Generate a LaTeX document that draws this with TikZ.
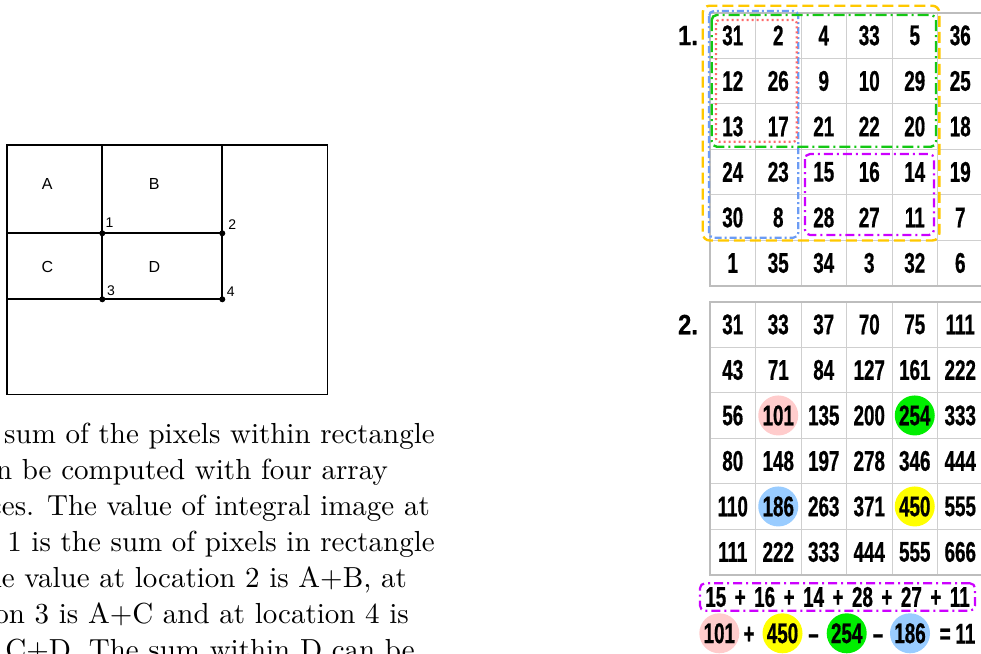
\documentclass[tikz,border=0pt]{standalone}
\usepackage{fontspec}
\usepackage{xcolor}
\setsansfont{Liberation Sans}
\newfontfamily\numfont{Liberation Sans}[FakeStretch=0.66,FakeBold=0.6]
\newfontfamily\labfont{Liberation Sans}[FakeStretch=0.85,FakeBold=0.4]
\newfontfamily\capfont{lmroman10-regular}[Extension=.otf]

\definecolor{boxyellow}{HTML}{FFC800}
\definecolor{boxblue}{HTML}{6C9CF4}
\definecolor{boxgreen}{HTML}{14C814}
\definecolor{boxred}{HTML}{FF6A6A}
\definecolor{boxmagenta}{HTML}{CC00FF}
\definecolor{gridgray}{HTML}{CFCFCF}
\definecolor{framegray}{HTML}{BDBDBD}
\definecolor{hlpink}{HTML}{FFCCCC}
\definecolor{hlgreen}{HTML}{00EE00}
\definecolor{hlblue}{HTML}{99CCFF}
\definecolor{hlyellow}{HTML}{FFFF00}

\newcommand\ts{\hspace{8.5pt}}

\begin{document}
\begin{tikzpicture}[
  x=1pt, y=-1pt,
  region/.style={line width=1.8pt, line cap=rect},
  part/.style={font=\sffamily\fontsize{16}{18}\selectfont, inner sep=0pt},
  ptlabel/.style={font=\sffamily\fontsize{14}{16}\selectfont, inner sep=0pt},
  capline/.style={anchor=base east, inner sep=0pt,
    font=\capfont\fontsize{29}{35}\selectfont},
  cellnum/.style={font=\numfont\bfseries\fontsize{28.5}{30}\selectfont,
    inner sep=0pt},
  tablabel/.style={font=\labfont\bfseries\fontsize{28}{30}\selectfont,
    inner sep=0pt},
  hl/.style={circle, inner sep=0pt, minimum size=40pt},
  gridline/.style={draw=gridgray, line width=1pt},
  tableframe/.style={draw=framegray, line width=1.6pt},
  yellowbox/.style={draw=boxyellow, line width=2.4pt, rounded corners=7pt,
    dash pattern=on 11pt off 5pt},
  bluebox/.style={draw=boxblue, line width=2.2pt, rounded corners=5pt,
    dash pattern=on 7pt off 3pt on 2pt off 3pt},
  greenbox/.style={draw=boxgreen, line width=2.4pt, rounded corners=5pt,
    dash pattern=on 11pt off 4pt on 2pt off 4pt},
  redbox/.style={draw=boxred, line width=2.2pt, rounded corners=3pt,
    dash pattern=on 2pt off 3pt},
  magentabox/.style={draw=boxmagenta, line width=2.2pt, rounded corners=5pt,
    dash pattern=on 9pt off 4pt on 2pt off 4pt},
]
\useasboundingbox (0,0) rectangle (981,653);
\clip (0,0) rectangle (981,653);
\def\cw{45.5}

% integral image regions
\coordinate (tl) at (7.3,145);
\coordinate (br) at (327.5,394.5);
\coordinate (p1) at (102.3,233.3);
\coordinate (p2) at (222.3,233.3);
\coordinate (p3) at (102.3,299.3);
\coordinate (p4) at (222.3,299.3);
\draw[region] (tl) rectangle (br);
\draw[region] (p1 |- tl) -- (p3);
\draw[region] (p2 |- tl) -- (p4);
\draw[region] (tl |- p1) -- (p2);
\draw[region] (tl |- p3) -- (p4);
\foreach \p in {p1,p2,p3,p4}
  \fill (\p) circle[radius=3pt];
\node[part] (A) at (47.3,184.3) {A};
\node[part] (B) at (154.3,184.3) {B};
\node[part] (C) at (47.3,266.7) {C};
\node[part] (D) at (154.3,266.7) {D};
\node[ptlabel] (n1) at (109.5,222.7) {1};
\node[ptlabel] (n2) at (232.3,225) {2};
\node[ptlabel] (n3) at (111,290.7) {3};
\node[ptlabel] (n4) at (230.7,291.7) {4};

% caption (cut at the left)
\node[capline] (cap1) at (435,443.5) {sum of the pixels within rectangle};
\node[capline] (cap2) at (388,479.5) {n be computed with four array};
\node[capline] (cap3) at (430,515.5) {ces. The value of integral image at};
\node[capline] (cap4) at (435,551.5) {1 is the sum of pixels in rectangle};
\node[capline] (cap5) at (407,587.3) {he value at location 2 is A+B, at};
\node[capline] (cap6) at (409,623.2) {on 3 is A+C and at location 4 is};
\node[capline] (cap7) at (415,659) {C+D. The sum within D can be};

% table 1: image
\foreach \k in {0,...,6} {
  \draw[gridline] ({710+\k*\cw},12.7) -- ({710+\k*\cw},285.7);
  \draw[gridline] (710,{12.7+\k*\cw}) -- (983,{12.7+\k*\cw});
}
\draw[tableframe] (983,12.7) -- (710,12.7) -- (710,285.7) -- (983,285.7);
\node[tablabel] (lab1) at (688,35.5) {1.};
\foreach \row [count=\r] in {{31,2,4,33,5,36},{12,26,9,10,29,25},
    {13,17,21,22,20,18},{24,23,15,16,14,19},{30,8,28,27,11,7},
    {1,35,34,3,32,6}}
  \foreach \v [count=\c] in \row
    \node[cellnum] (a-\r-\c) at ({710+(\c-0.5)*\cw},{12.7+(\r-0.5)*\cw}) {\v};

\draw[yellowbox] (702.7,5.7) rectangle (939.3,240.5);
\draw[bluebox] (709,11) rectangle (798.3,237.7);
\draw[greenbox] (711.7,15) rectangle (936,146.7);
\draw[redbox] (716,20) rectangle (796.7,141.7);
\draw[magentabox] (805,154) rectangle (934,235);

% table 2: integral image
\foreach \k in {0,...,6} {
  \draw[gridline] ({710+\k*\cw},301.7) -- ({710+\k*\cw},574.7);
  \draw[gridline] (710,{301.7+\k*\cw}) -- (983,{301.7+\k*\cw});
}
\draw[tableframe] (983,301.7) -- (710,301.7) -- (710,574.7) -- (983,574.7);
\node[tablabel] (lab2) at (688,324.5) {2.};
\foreach \r/\c/\col in {3/2/hlpink, 3/5/hlgreen, 5/2/hlblue, 5/5/hlyellow}
  \fill[\col] ({710+(\c-0.5)*\cw},{301.7+(\r-0.5)*\cw}) circle[radius=20pt];
\foreach \row [count=\r] in {{31,33,37,70,75,111},{43,71,84,127,161,222},
    {56,101,135,200,254,333},{80,148,197,278,346,444},
    {110,186,263,371,450,555},{111,222,333,444,555,666}}
  \foreach \v [count=\c] in \row
    \node[cellnum] (b-\r-\c) at ({710+(\c-0.5)*\cw},{301.7+(\r-0.5)*\cw}) {\v};

% the two sums
\node[cellnum, magentabox, minimum width=275pt, minimum height=27.4pt]
  (sum) at (837.5,597) {15\ts+\ts16\ts+\ts14\ts+\ts28\ts+\ts27\ts+\ts11};
\node[cellnum, hl, fill=hlpink] (s1) at (719.3,633.3) {101};
\node[cellnum, anchor=base] (op1) at (749,643.5) {+};
\node[cellnum, hl, fill=hlyellow] (s2) at (782.5,633.3) {450};
\node[cellnum, anchor=base] (op2) at (813.5,643.5) {–};
\node[cellnum, hl, fill=hlgreen] (s3) at (846.7,633.3) {254};
\node[cellnum, anchor=base] (op3) at (878,643.5) {–};
\node[cellnum, hl, fill=hlblue] (s4) at (910,633.3) {186};
\node[cellnum, anchor=base] (res) at (957.5,643.5) {=\,11};
\end{tikzpicture}
\end{document}
